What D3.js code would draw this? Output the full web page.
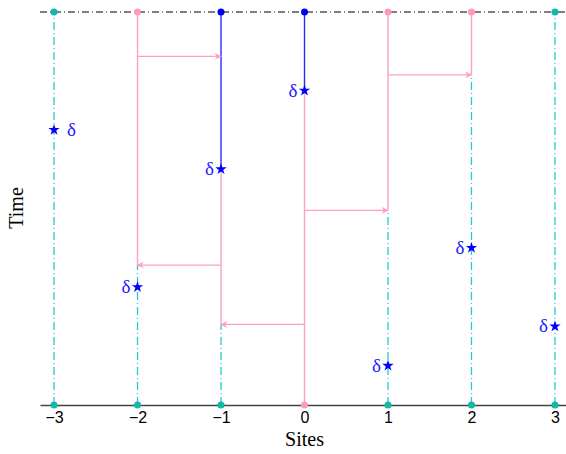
<!DOCTYPE html>
<html>
<head>
<meta charset="utf-8">
<script src="https://cdn.jsdelivr.net/npm/d3@7"></script>
<style>
  body { margin: 0; background: #fff; }
</style>
</head>
<body>
<div id="chart"></div>
<script>
const sites = [-3, -2, -1, 0, 1, 2, 3];
const deathTimes = [7, 3, 6, 8, 1, 4, 2];
const deltaSide = ["right", "left", "left", "left", "left", "left", "left"];

// pieces of each site's line, [start time, end time, kind]
const segments = [
  [[0, 10, "c"]],
  [[0, 3.56, "c"], [3.56, 10, "p"]],
  [[0, 2.05, "c"], [2.05, 6, "p"], [6, 10, "b"]],
  [[0, 8, "p"], [8, 10, "b"]],
  [[0, 4.95, "c"], [4.95, 10, "p"]],
  [[0, 8.4, "c"], [8.4, 10, "p"]],
  [[0, 10, "c"]]
];

const arrowFrom = [-2, 1, 0, -1, 0];
const arrowTo = [-1, 2, 1, -2, -1];
const arrowTime = [8.87, 8.4, 4.95, 3.56, 2.05];

const tickValues = [-3, -2, -1, 0, 1, 2, 3];

const lineColor = { c: "#22cccc", p: "#ff9fc8", b: "#2a2aff" };
const dotColor = { c: "#14b8aa", p: "#ff9abf", b: "#0000ee" };

const width = 566, height = 454;
const margin = { top: 12, right: 0, bottom: 49, left: 40 };

const svg = d3.select("#chart")
  .append("svg")
  .attr("width", width)
  .attr("height", height);

const x = d3.scaleLinear()
  .domain([-3.168, 3.132])
  .range([margin.left, width - margin.right]);
const y = d3.scaleLinear()
  .domain([0, 10])
  .range([height - margin.bottom, margin.top]);

svg.append("defs").append("marker")
  .attr("id", "head")
  .attr("viewBox", "0 0 10 10")
  .attr("refX", 9)
  .attr("refY", 5)
  .attr("markerWidth", 7)
  .attr("markerHeight", 7)
  .attr("markerUnits", "userSpaceOnUse")
  .attr("orient", "auto")
  .append("path")
  .attr("d", "M0,0 L10,5 L0,10 L3,5 Z")
  .attr("fill", lineColor.p);

// vertical lines
sites.forEach(function (s, i) {
  svg.selectAll(null)
    .data(segments[i])
    .join("line")
    .attr("x1", x(s))
    .attr("x2", x(s))
    .attr("y1", function (d) { return y(d[0]) })
    .attr("y2", function (d) { return y(d[1]) })
    .attr("stroke", function (d) { return lineColor[d[2]] })
    .attr("stroke-width", function (d) { return d[2] == "c" ? 1.3 : 1.4 })
    .attr("stroke-dasharray", function (d) { return d[2] == "c" ? "8,3,1,3" : null });
});

// arrows
svg.selectAll(null)
  .data(arrowTime)
  .join("line")
  .attr("x1", function (d, i) { return x(arrowFrom[i]) })
  .attr("x2", function (d, i) { return x(arrowTo[i]) })
  .attr("y1", function (d) { return y(d) })
  .attr("y2", function (d) { return y(d) })
  .attr("stroke", lineColor.p)
  .attr("stroke-width", 1.3)
  .attr("marker-end", "url(#head)");

// top dash-dot line
svg.append("line")
  .attr("x1", margin.left)
  .attr("x2", width)
  .attr("y1", y(10))
  .attr("y2", y(10))
  .attr("stroke", "#000")
  .attr("stroke-width", 1.1)
  .attr("stroke-dasharray", "7,3,1,3");

// bottom axis
const axis = svg.append("g")
  .attr("transform", "translate(0," + y(0) + ")")
  .call(d3.axisBottom(x).tickValues(tickValues).tickSize(0).tickPadding(7)
    .tickFormat(function (d) { return d < 0 ? "\u2212" + Math.abs(d) : d }));
axis.select(".domain").attr("stroke", "#444").attr("stroke-width", 1.3);
axis.selectAll("text")
  .attr("font-family", "Liberation Sans, Arial, sans-serif")
  .attr("font-size", 16)
  .attr("fill", "#000");

// dots at the ends
svg.selectAll(null)
  .data(sites)
  .join("circle")
  .attr("cx", function (d) { return x(d) })
  .attr("cy", y(10))
  .attr("r", 3.5)
  .attr("fill", function (d, i) { return dotColor[segments[i][segments[i].length - 1][2]] });
svg.selectAll(null)
  .data(sites)
  .join("circle")
  .attr("cx", function (d) { return x(d) })
  .attr("cy", y(0))
  .attr("r", 3.5)
  .attr("fill", function (d, i) { return dotColor[segments[i][0][2]] });

// death marks
svg.selectAll(null)
  .data(sites)
  .join("path")
  .attr("d", d3.symbol().type(d3.symbolStar).size(40))
  .attr("transform", function (d, i) { return "translate(" + x(d) + "," + y(deathTimes[i]) + ")" })
  .attr("fill", "#0000ff");
svg.selectAll(null)
  .data(sites)
  .join("text")
  .attr("x", function (d, i) { return deltaSide[i] == "right" ? x(d) + 13 : x(d) - 7 })
  .attr("y", function (d, i) { return y(deathTimes[i]) + 6 })
  .attr("text-anchor", function (d, i) { return deltaSide[i] == "right" ? "start" : "end" })
  .attr("font-family", "Liberation Serif, serif")
  .attr("font-size", 19)
  .attr("fill", "#1a1aff")
  .text("\u03b4");

// axis titles
svg.append("text")
  .attr("x", x(0))
  .attr("y", 446)
  .attr("text-anchor", "middle")
  .attr("font-family", "Liberation Serif, serif")
  .attr("font-size", 20)
  .text("Sites");
svg.append("text")
  .attr("transform", "translate(23," + 208 + ") rotate(-90)")
  .attr("text-anchor", "middle")
  .attr("font-family", "Liberation Serif, serif")
  .attr("font-size", 20)
  .text("Time");
</script>
</body>
</html>
